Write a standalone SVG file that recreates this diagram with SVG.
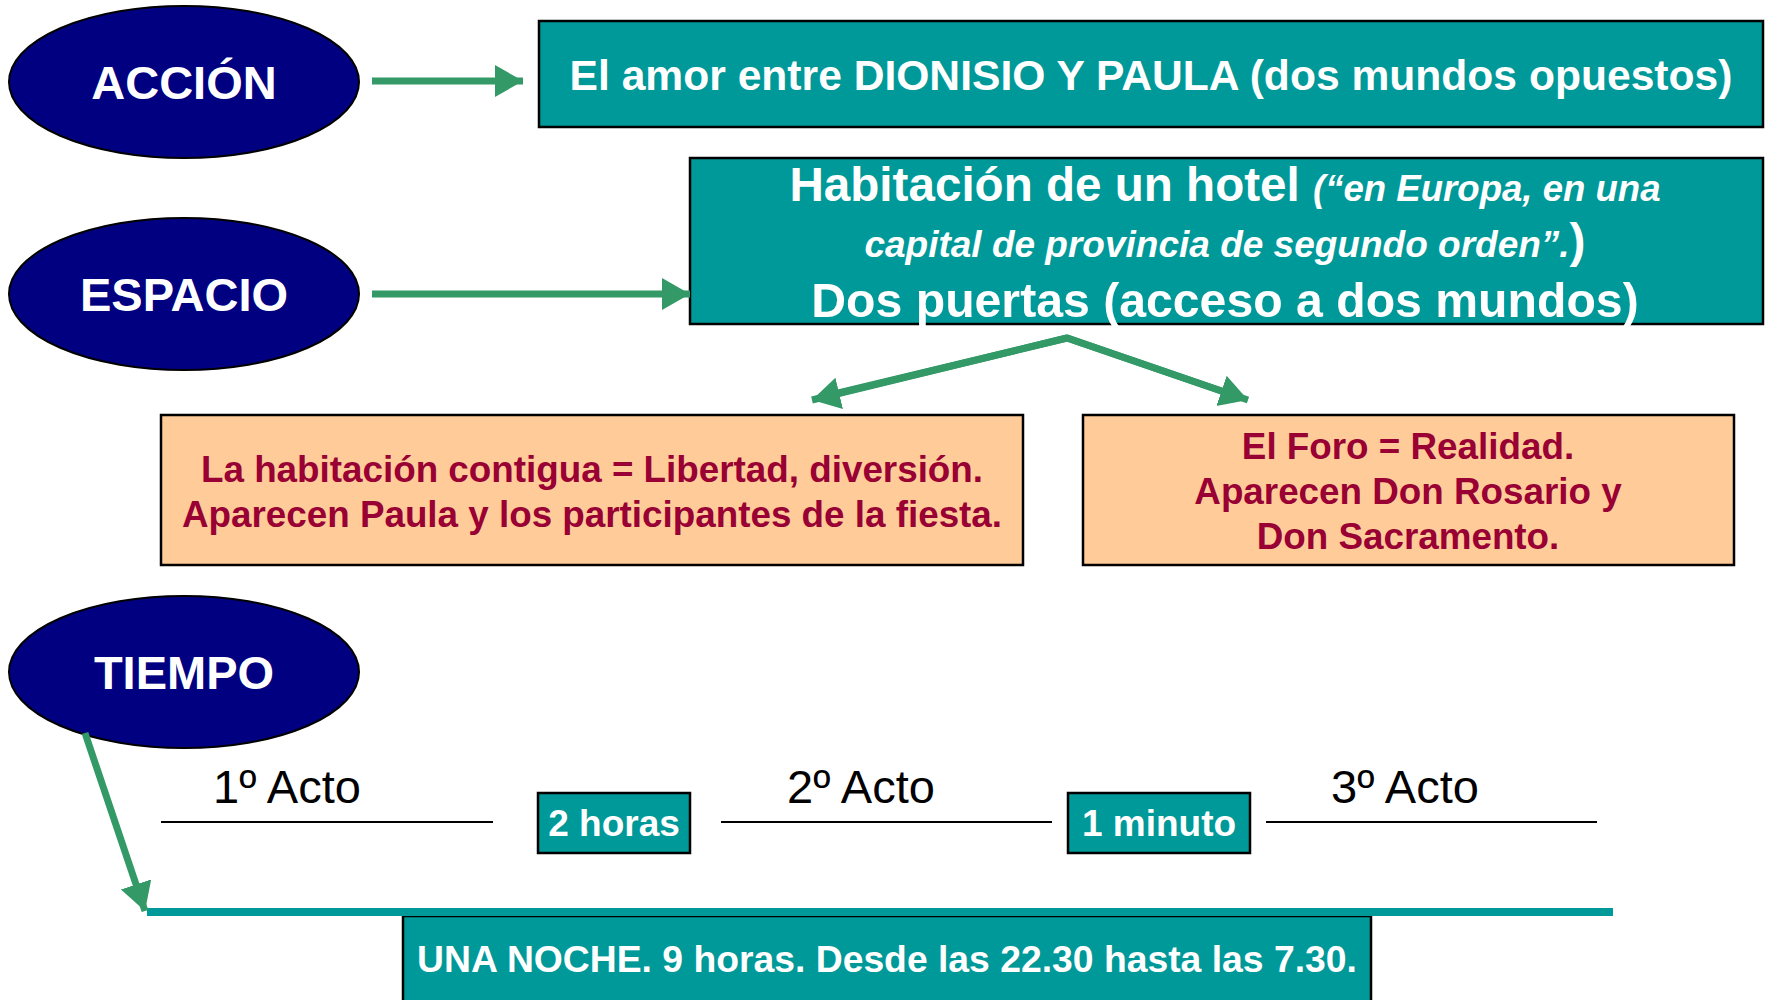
<svg xmlns="http://www.w3.org/2000/svg" width="1769" height="1000" viewBox="0 0 1769 1000">
<defs>
<style>
.ell{fill:#000080;stroke:#000;stroke-width:2}
.ellt{font-family:"Liberation Sans",Arial,sans-serif;font-weight:bold;font-size:47px;fill:#fff;text-anchor:middle}
.teal{fill:#009999;stroke:#000;stroke-width:2.5}
.org{fill:#FFCC99;stroke:#000;stroke-width:2.5}
.wt{font-family:"Liberation Sans",Arial,sans-serif;font-weight:bold;fill:#fff;text-anchor:middle}
.rt{font-family:"Liberation Sans",Arial,sans-serif;font-weight:bold;fill:#990033;text-anchor:middle;font-size:36.8px}
.act{font-family:"Liberation Sans",Arial,sans-serif;fill:#000;text-anchor:middle;font-size:47px}
.con{stroke:#339966;stroke-width:7;fill:none}
.tl{stroke:#000;stroke-width:2}
</style>
<marker id="ah" markerUnits="userSpaceOnUse" markerWidth="32" markerHeight="34" refX="28" refY="16" orient="auto">
<path d="M0,0 L28,16 L0,32 Z" fill="#339966"/>
</marker>
</defs>
<rect width="1769" height="1000" fill="#fff"/>

<g id="accion">
<ellipse class="ell" cx="184" cy="82" rx="175" ry="76"/>
<text class="ellt" x="184" y="99">ACCIÓN</text>
</g>
<g id="espacio">
<ellipse class="ell" cx="184" cy="294" rx="175" ry="76"/>
<text class="ellt" x="184" y="311">ESPACIO</text>
</g>
<g id="tiempo">
<ellipse class="ell" cx="184" cy="672" rx="175" ry="76"/>
<text class="ellt" x="184" y="689">TIEMPO</text>
</g>

<g id="box-accion">
<rect class="teal" x="539" y="21" width="1224" height="106"/>
<text class="wt" x="1151" y="90" font-size="42.6">El amor entre DIONISIO Y PAULA (dos mundos opuestos)</text>
</g>

<g id="box-espacio">
<rect class="teal" x="690" y="158" width="1073" height="166"/>
<text class="wt" x="1225" y="201"><tspan font-size="47.6">Habitación de un hotel </tspan><tspan font-size="36.6" font-style="italic">(“en Europa, en una</tspan></text>
<text class="wt" x="1225" y="257"><tspan font-size="37" font-style="italic">capital de provincia de segundo orden”.</tspan><tspan font-size="48">)</tspan></text>
<text class="wt" x="1225" y="317" font-size="48.2">Dos puertas (acceso a dos mundos)</text>
</g>

<g id="box-contigua">
<rect class="org" x="161" y="415" width="862" height="150"/>
<text class="rt" x="592" y="482">La habitación contigua = Libertad, diversión.</text>
<text class="rt" x="592" y="527">Aparecen Paula y los participantes de la fiesta.</text>
</g>

<g id="box-foro">
<rect class="org" x="1083" y="415" width="651" height="150"/>
<text class="rt" x="1408" y="459">El Foro = Realidad.</text>
<text class="rt" x="1408" y="504">Aparecen Don Rosario y</text>
<text class="rt" x="1408" y="549">Don Sacramento.</text>
</g>

<g id="timeline">
<line class="tl" x1="161" y1="822" x2="493" y2="822"/>
<line class="tl" x1="721" y1="822" x2="1052" y2="822"/>
<line class="tl" x1="1266" y1="822" x2="1597" y2="822"/>
<text class="act" x="287" y="803">1º Acto</text>
<text class="act" x="861" y="803">2º Acto</text>
<text class="act" x="1405" y="803">3º Acto</text>
</g>
<g id="box-2horas">
<rect class="teal" x="538" y="793" width="152" height="60"/>
<text class="wt" x="614" y="836" font-size="37">2 horas</text>
</g>
<g id="box-1minuto">
<rect class="teal" x="1068" y="793" width="182" height="60"/>
<text class="wt" x="1159" y="836" font-size="37">1 minuto</text>
</g>

<g id="box-noche">
<rect class="teal" x="403" y="916" width="968" height="100"/>
<line x1="147" y1="912" x2="1613" y2="912" stroke="#009999" stroke-width="8"/>
<text class="wt" x="887" y="972" font-size="37.3">UNA NOCHE. 9 horas. Desde las 22.30 hasta las 7.30.</text>
</g>

<g id="connectors">
<line class="con" x1="372" y1="81" x2="523" y2="81" marker-end="url(#ah)"/>
<line class="con" x1="372" y1="294" x2="690" y2="294" marker-end="url(#ah)"/>
<polyline class="con" points="830,395 1067,338 1230,394" stroke-linejoin="miter"/>
<line class="con" x1="1067" y1="338" x2="812" y2="400" marker-end="url(#ah)"/>
<line class="con" x1="1067" y1="338" x2="1248" y2="400" marker-end="url(#ah)"/>
<line class="con" x1="85" y1="733" x2="145" y2="911" marker-end="url(#ah)"/>
</g>
</svg>
